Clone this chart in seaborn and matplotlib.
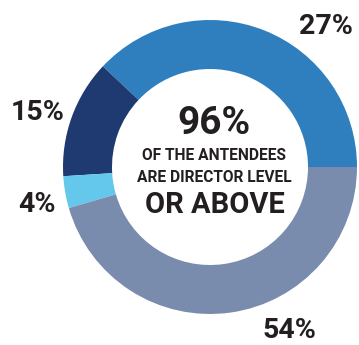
import matplotlib
matplotlib.use("Agg")
import matplotlib.pyplot as plt
import seaborn as sns

# Data (drawn slice sizes, plus the printed labels)
segments = ["Director", "Senior", "Other", "VP and above"]
slice_sizes = [38.0, 13.0, 3.5, 45.5]
slice_labels = ["27%", "15%", "4%", "54%"]
headline = "96%"
sub_lines = ["OF THE ANTENDEES", "ARE DIRECTOR LEVEL"]
closing = "OR ABOVE"

sns.set_theme(style="white")
plt.rcParams['font.family'] = ['Roboto', 'DejaVu Sans']

colors = ["#2F7FBF", "#1F3A70", "#63C8EB", "#7A8CAE"]
W, H = 359, 345
fig = plt.figure(figsize=(W / 100, H / 100), dpi=100)
ax = fig.add_axes([0, 0, 1, 1])

cx, cy = 210, H - 167
ax.pie(slice_sizes, colors=colors, startangle=0, counterclock=True,
       center=(cx, cy), radius=147, frame=True,
       wedgeprops=dict(width=49, linewidth=0, edgecolor="none"))
ax.set_xlim(0, W)
ax.set_ylim(0, H)
ax.set_aspect("equal")
ax.axis("off")

txt = "#231F20"
label_pos = [(326, 27), (38, 112), (37, 204), (289, 331)]
for lab, (x, y) in zip(slice_labels, label_pos):
    ax.text(x, H - y, lab, ha="center", va="center", fontsize=20.5,
            fontweight="bold", color=txt)

ax.text(214, H - 124, headline, ha="center", va="center", fontsize=28,
        fontweight="bold", color=txt)
for s, y in zip(sub_lines, [156, 177]):
    ax.text(214, H - y, s, ha="center", va="center", fontsize=11.2,
            fontweight="bold", color=txt)
ax.text(215, H - 205, closing, ha="center", va="center", fontsize=21,
        fontweight="bold", color=txt)

fig.savefig("out.png", dpi=100, facecolor="white")
